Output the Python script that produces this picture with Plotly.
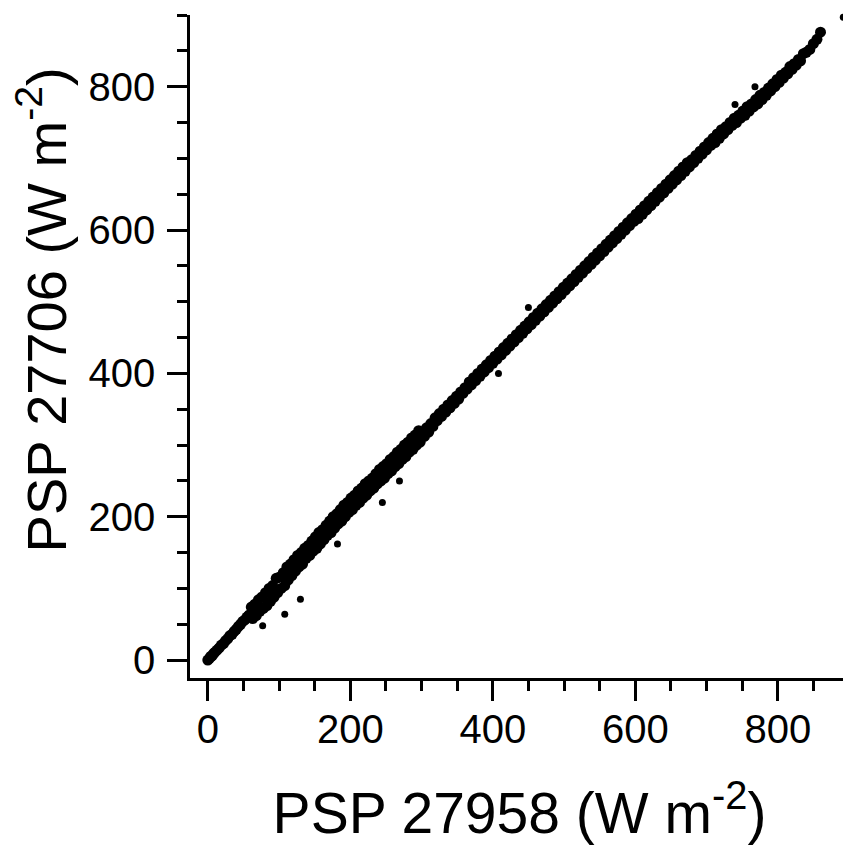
import plotly.graph_objects as go

# Band of paired pyranometer readings (W m-2)
x_low = [0, 2, 4, 6, 8, 10, 13, 16, 19, 22, 25, 28, 31, 34, 37, 40, 43, 46, 49, 52, 55, 58]
y_low = [0, 2, 5, 6, 9, 11, 14, 17, 21, 23, 27, 30, 34, 36, 40, 43, 47, 50, 54, 56, 60, 63]

x_mid1 = [61, 63, 66, 68, 71, 73, 76, 78, 81, 83, 86, 88, 91, 93, 96, 98, 101, 103, 106, 108,
          111, 113, 116, 118, 121, 123, 126, 128, 131, 133, 136, 138, 141, 143, 146, 148, 151, 153,
          156, 158, 161, 163, 166, 168, 171, 173, 176, 178, 181, 183, 186, 188, 191, 193, 196, 198,
          201, 203, 206, 208, 211, 213, 216, 218, 221, 223, 226, 228, 231, 233, 236, 238, 241, 243,
          246, 248, 251, 253, 256, 258, 261, 263, 266, 268, 271, 273, 276, 278, 281, 283, 286, 288,
          291, 293, 296, 298]
y_mid1 = [74, 58, 78, 62, 84, 68, 88, 72, 94, 76, 100, 82, 104, 88, 114, 94, 116, 100, 122, 104,
          130, 112, 134, 118, 140, 124, 146, 130, 150, 134, 156, 142, 160, 146, 166, 152, 172, 156,
          178, 162, 182, 168, 188, 174, 194, 178, 200, 184, 204, 190, 210, 194, 216, 200, 220, 206,
          226, 210, 230, 216, 236, 220, 240, 226, 246, 230, 250, 236, 254, 240, 260, 246, 266, 250,
          270, 254, 274, 260, 280, 264, 284, 270, 290, 274, 294, 280, 300, 284, 304, 290, 310, 294,
          314, 300, 320, 304]

x_mid2 = [301, 304, 307, 310, 313, 316, 319, 322, 325, 328, 331, 334, 337, 340, 343, 346, 349, 352,
          355, 358, 361, 364, 367, 370, 373, 376, 379, 382, 385, 388, 391, 394, 397, 400, 403, 406,
          409, 412, 415, 418, 421, 424, 427, 430, 433, 436, 439, 442, 445, 448, 451, 454, 457, 460,
          463, 466, 469, 472, 475, 478, 481, 484, 487, 490, 493, 496, 499, 502, 505, 508, 511, 514,
          517, 520, 523, 526, 529, 532, 535, 538, 541, 544, 547, 550, 553, 556, 559, 562, 565, 568,
          571, 574, 577, 580, 583, 586, 589, 592, 595, 598]
y_mid2 = [318, 312, 324, 318, 330, 326, 338, 334, 344, 340, 350, 346, 356, 352, 362, 358, 368, 364,
          374, 372, 380, 378, 388, 384, 394, 390, 400, 396, 406, 402, 412, 408, 418, 414, 424, 420,
          430, 426, 436, 432, 442, 438, 448, 444, 454, 450, 460, 456, 466, 462, 472, 468, 478, 474,
          484, 480, 490, 486, 496, 492, 502, 498, 508, 504, 514, 510, 520, 516, 526, 522, 532, 528,
          538, 534, 544, 540, 550, 546, 556, 552, 562, 558, 568, 564, 574, 570, 580, 576, 586, 582,
          592, 588, 598, 594, 604, 600, 610, 606, 616, 612]

x_high = [601, 604, 607, 610, 613, 616, 619, 622, 625, 628, 631, 634, 637, 640, 643, 646, 649, 652,
          655, 658, 661, 664, 667, 670, 673, 676, 679, 682, 685, 688, 691, 694, 697, 700, 703, 706,
          709, 712, 715, 718, 721, 724, 727, 730, 733, 736, 739, 742, 745, 748, 751, 754, 757, 760,
          763, 766, 769, 772, 775, 778, 781, 784, 787, 790, 793, 796, 799, 802, 805, 808, 811, 814,
          817, 820, 823, 826, 829, 832, 836, 840, 845, 850, 855, 860]
y_high = [622, 616, 628, 622, 634, 628, 640, 634, 646, 640, 652, 646, 658, 652, 664, 658, 670, 664,
          676, 670, 682, 676, 688, 682, 694, 688, 698, 694, 704, 700, 710, 706, 716, 712, 722, 718,
          728, 722, 734, 728, 740, 734, 744, 740, 750, 746, 756, 750, 760, 756, 766, 760, 772, 766,
          776, 772, 782, 776, 788, 782, 792, 788, 798, 794, 804, 800, 810, 806, 816, 812, 820, 818,
          828, 824, 832, 830, 838, 836, 846, 848, 852, 860, 866, 876]

x_outliers = [77, 108, 130, 182, 245, 269, 408, 450, 740, 768, 892]
y_outliers = [48, 64, 85, 162, 220, 250, 400, 492, 775, 800, 897]

x_band = x_low + x_mid1 + x_mid2 + x_high
y_band = y_low + y_mid1 + y_mid2 + y_high

tick_vals = [0, 200, 400, 600, 800]
tick_text = ["0", "200", "400", "600", "800"]

FONT = "Liberation Sans, Arial, Helvetica, sans-serif"

fig = go.Figure()
fig.add_trace(go.Scatter(
    x=x_band, y=y_band, mode="markers",
    marker=dict(color="black", size=11, symbol="circle", line=dict(width=0)),
    showlegend=False,
))
fig.add_trace(go.Scatter(
    x=x_outliers, y=y_outliers, mode="markers",
    marker=dict(color="black", size=7, symbol="circle", line=dict(width=0)),
    showlegend=False, cliponaxis=False,
))

axis_common = dict(
    range=[-25, 900],
    tickvals=tick_vals,
    ticktext=tick_text,
    ticks="outside",
    ticklen=20,
    tickwidth=2.5,
    tickcolor="black",
    showline=True,
    linecolor="black",
    linewidth=2.5,
    showgrid=False,
    zeroline=False,
    mirror=False,
    automargin=False,
    tickfont=dict(family=FONT, size=40, color="black"),
    minor=dict(dtick=50, tick0=0, ticks="outside", ticklen=10, tickwidth=2.5, tickcolor="black", showgrid=False),
)

# the page body adds an 8 px offset, so the figure is drawn 8 px smaller
fig.update_layout(
    width=843, height=849,
    margin=dict(l=182, r=2, t=7, b=179),
    paper_bgcolor="white", plot_bgcolor="white",
    font=dict(family=FONT, color="black"),
    xaxis=dict(**axis_common,
               title=dict(text="PSP 27958 (W m<sup>-2</sup>)", font=dict(family=FONT, size=57, color="black"), standoff=44),
               ticklabelstandoff=-6),
    yaxis=dict(**axis_common, ticklabelstandoff=4),
    annotations=[dict(
        text="PSP 27706 (W m<sup>-2</sup>)", textangle=-90,
        xref="paper", yref="paper", x=-0.224, y=0.555,
        xanchor="center", yanchor="middle", showarrow=False,
        font=dict(family=FONT, size=56, color="black"),
    )],
)

fig.write_html("out.html")
